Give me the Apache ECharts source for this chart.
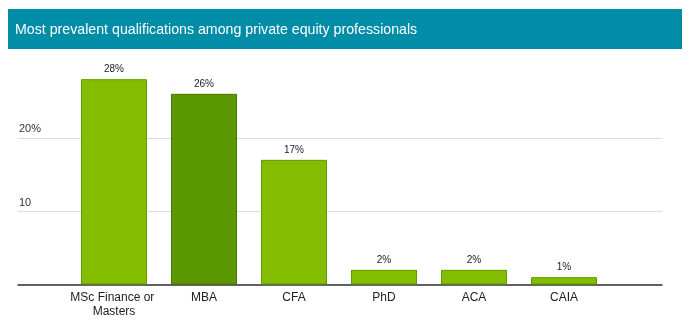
<!DOCTYPE html>
<html>
<head>
<meta charset="utf-8">
<script src="https://cdn.jsdelivr.net/npm/echarts@6/dist/echarts.min.js"></script>
<style>
  html, body { margin: 0; padding: 0; background: #fff; }
  #chart { width: 694px; height: 325px; }
</style>
</head>
<body>
<div id="chart"></div>
<script>
// Share of private equity professionals holding each qualification (%)
const chartTitle = 'Most prevalent qualifications among private equity professionals';
const categories = ['MSc Finance or Masters', 'MBA', 'CFA', 'PhD', 'ACA', 'CAIA'];
const shares = [28, 26, 17, 2, 2, 1];
const highlighted = ['MBA'];
const tickValues = [10, 20];
const tickLabels = ['10', '20%'];

const FONT = '"Liberation Sans", Arial, Helvetica, sans-serif';
const LIGHT = { fill: '#84bc00', border: '#5f9a00' };
const DARK = { fill: '#5b9700', border: '#477a00' };

const barData = categories.map((c, i) => {
  const s = highlighted.includes(c) ? DARK : LIGHT;
  return {
    value: shares[i],
    itemStyle: { color: s.fill, borderColor: s.border, borderWidth: 1 }
  };
});

const chart = echarts.init(document.getElementById('chart'), null, { renderer: 'canvas' });

const plotTop = 64.5, plotBottom = 40.5;

chart.setOption({
  backgroundColor: '#ffffff',
  animation: false,
  graphic: [{
    type: 'rect',
    left: 8, top: 9,
    shape: { width: 674, height: 40 },
    style: { fill: '#018ca8' },
    z: 0
  }],
  title: {
    text: chartTitle,
    left: 10, top: 18,
    textStyle: { color: '#ffffff', fontSize: 14.2, fontWeight: 'normal', fontFamily: FONT }
  },
  grid: [
    { left: 18, right: 32, top: plotTop, bottom: plotBottom },
    { left: 69, width: 540, top: plotTop, bottom: plotBottom }
  ],
  xAxis: [
    {
      gridIndex: 0, type: 'value', min: 0, max: 1,
      axisLine: { show: true, onZero: false, lineStyle: { color: '#333333', width: 1.5 } },
      axisTick: { show: false }, axisLabel: { show: false }, splitLine: { show: false }
    },
    {
      gridIndex: 1, type: 'category', data: categories,
      axisLine: { show: false }, axisTick: { show: false },
      axisLabel: {
        interval: 0, margin: 6, color: '#222222', fontSize: 12, lineHeight: 14,
        fontFamily: FONT, width: 90, overflow: 'break'
      }
    }
  ],
  yAxis: [
    {
      gridIndex: 0, type: 'value', min: 0, max: 30, interval: 10,
      axisLine: { show: false }, axisTick: { show: false },
      axisLabel: {
        inside: true, margin: 1, verticalAlign: 'bottom', padding: [0, 0, 3, 0],
        color: '#333333', fontSize: 11, fontFamily: FONT,
        showMinLabel: false, showMaxLabel: false,
        formatter: v => {
          const k = tickValues.indexOf(v);
          return k >= 0 ? tickLabels[k] : '';
        }
      },
      splitLine: {
        show: true,
        lineStyle: { color: ['#dddddd', '#dddddd', '#dddddd', 'rgba(0,0,0,0)'], width: 1 }
      }
    },
    {
      gridIndex: 1, type: 'value', min: 0, max: 30, interval: 10, show: false,
      splitLine: { show: false }
    }
  ],
  series: [{
    type: 'bar',
    xAxisIndex: 1, yAxisIndex: 1,
    data: barData,
    barWidth: 66,
    label: {
      show: true, position: 'top', distance: 5,
      formatter: '{c}%', color: '#222222', fontSize: 10, fontFamily: FONT
    },
    z: 3
  }]
});
</script>
</body>
</html>
